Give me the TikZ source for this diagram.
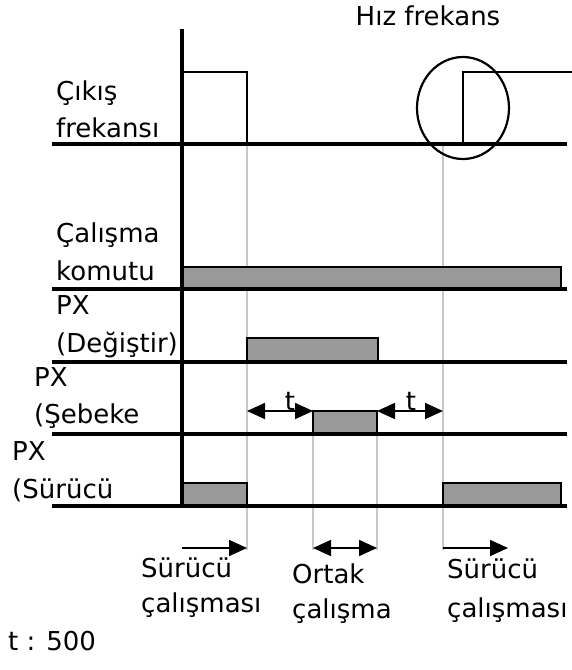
\documentclass[tikz,border=0pt]{standalone}
\usepackage{fontspec}
\setmainfont{DejaVu Sans}
\usetikzlibrary{arrows.meta}
\definecolor{guidegray}{RGB}{200,200,200}
\definecolor{barfill}{RGB}{153,153,153}
\begin{document}
\begin{tikzpicture}[x=1pt,y=-1pt,
  baseln/.style={line width=3.3pt},
  signal/.style={line width=2.2pt},
  guideln/.style={draw=guidegray, line width=1.6pt},
  barbox/.style={draw=black, fill=barfill, line width=1.8pt},
  lbl/.style={anchor=base west, inner sep=0pt, font=\fontsize{26}{30}\selectfont},
  tlbl/.style={anchor=base, inner sep=0pt, font=\fontsize{26}{30}\selectfont},
  tip/.tip={Triangle[length=18pt,width=16pt]},
  dimboth/.style={line width=1.7pt, tip-tip},
  dimone/.style={line width=1.7pt, -tip}]
\useasboundingbox (0,0) rectangle (572,670);
% guide lines
\draw[guideln] (247,144) -- (247,550);
\draw[guideln] (443,144) -- (443,550);
\draw[guideln] (313,434) -- (313,550);
\draw[guideln] (377,434) -- (377,550);
% bars
\draw[barbox] (182,267) rectangle (561,289);
\draw[barbox] (247,338) rectangle (378,362);
\draw[barbox] (313,411) rectangle (377,434);
\draw[barbox] (182,483) rectangle (247,506);
\draw[barbox] (443,483) rectangle (561,506);
% baselines
\foreach \yy in {144,289,362,434,506} \draw[baseln] (52,\yy) -- (567,\yy);
% axis
\draw[baseln] (182,29) -- (182,506);
% output frequency signal
\draw[signal] (182,72) -- (247,72) -- (247,144);
\draw[signal] (463,144) -- (463,72) -- (572,72);
\draw[line width=2.2pt] (463,108) ellipse [x radius=46pt, y radius=51pt];
% t arrows
\coordinate (ta1) at (247,411); \coordinate (tb1) at (313,411);
\coordinate (ta2) at (377,411); \coordinate (tb2) at (443,411);
\draw[dimboth] (ta1) -- (tb1);
\draw[dimboth] (ta2) -- (tb2);
\node[tlbl] (t1) at (290,410) {t};
\node[tlbl] (t2) at (411,410) {t};
% bottom arrows
\coordinate (ba1) at (182,548); \coordinate (bb1) at (247,548);
\coordinate (ba2) at (313,548); \coordinate (bb2) at (377,548);
\coordinate (ba3) at (443,548); \coordinate (bb3) at (508,548);
\draw[dimone] (ba1) -- (bb1);
\draw[dimboth] (ba2) -- (bb2);
\draw[dimone] (ba3) -- (bb3);
% labels
\node[tlbl] (hiz) at (428,25) {Hız frekans};
\node[lbl] (c1) at (56,100) {Çıkış};
\node[lbl] (c2) at (56,137) {frekansı};
\node[lbl] (k1) at (56,242) {Çalışma};
\node[lbl] (k2) at (56,280) {komutu};
\node[lbl] (d1) at (56,314) {PX};
\node[lbl] (d2) at (56,352) {(Değiştir)};
\node[lbl] (s1) at (34,386) {PX};
\node[lbl] (s2) at (34,423) {(Şebeke};
\node[lbl] (r1) at (12,460) {PX};
\node[lbl] (r2) at (12,498) {(Sürücü};
\node[lbl] (b1) at (141,577) {Sürücü};
\node[lbl] (b2) at (141,612) {çalışması};
\node[lbl] (o1) at (292,583) {Ortak};
\node[lbl] (o2) at (292,618) {çalışma};
\node[lbl] (e1) at (447,578) {Sürücü};
\node[lbl] (e2) at (447,617) {çalışması};
\node[lbl] (tv) at (8,650) {t : 500};
\end{tikzpicture}
\end{document}
